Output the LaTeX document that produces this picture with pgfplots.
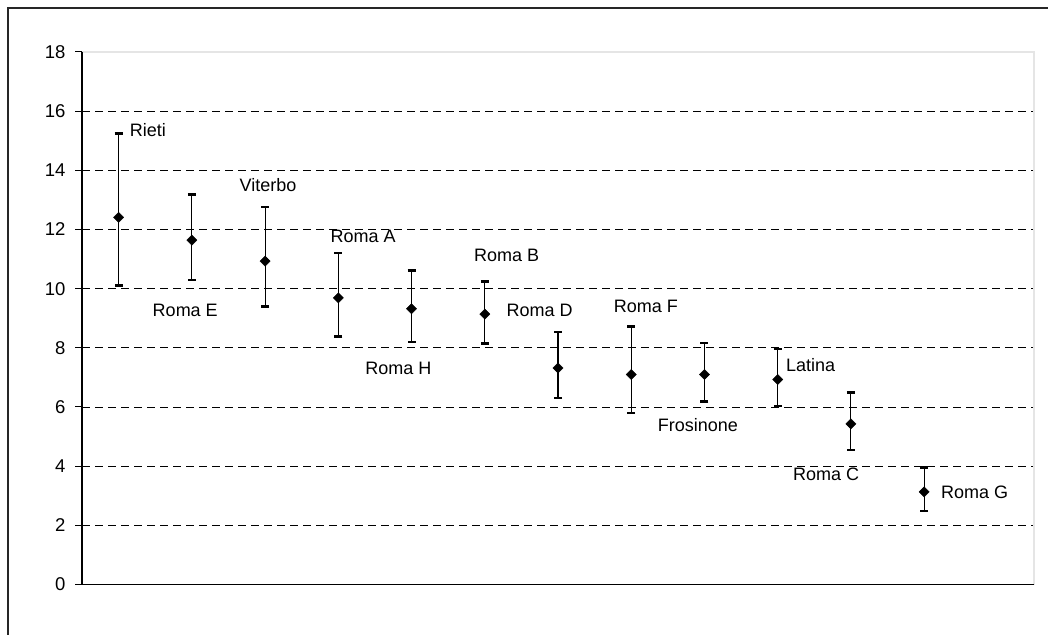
\documentclass[border=0pt]{standalone}
\usepackage{fontspec}
\setmainfont{Liberation Sans}
\usepackage{pgfplots}
\pgfplotsset{compat=1.18}

\begin{document}
\begin{tikzpicture}[font=\fontsize{18}{21}\selectfont]
\path[use as bounding box] (0pt,0pt) rectangle (1048pt,634pt);
% outer chart frame (left and top edges visible)
\begin{scope}
  \clip (0pt,0pt) rectangle (1048pt,634pt);
  \draw[line width=2pt, black!85] (8pt,-20pt) -- (8pt,626pt) -- (1070pt,626pt);
\end{scope}
\begin{axis}[
  at={(82pt,49.5pt)}, anchor=south west,
  scale only axis, width=952pt, height=532.5pt,
  xmin=0.5, xmax=13.5, ymin=0, ymax=18,
  xtick=\empty,
  ytick={0,2,...,18}, ytick pos=left,
  tick align=outside, major tick length=7pt,
  tick style={black, line width=1pt},
  extra y ticks={2,4,...,16}, extra y tick labels={},
  extra y tick style={grid=major, major tick length=0pt},
  grid style={black, dash pattern=on 8pt off 5pt, line width=0.9pt},
  axis line style={draw=none},
  yticklabel style={font=\fontsize{18.5}{21}\selectfont, xshift=-6pt},
  /pgf/number format/assume math mode=true,
  clip=false,
]
% plot-area border and axes
\draw[black!10, line width=2pt] (rel axis cs:0,1) -- (rel axis cs:1,1) -- (rel axis cs:1,0);
\draw[black, line width=1.2pt] (rel axis cs:0,1) -- (rel axis cs:0,0) -- (rel axis cs:1,0);

\addplot[only marks, mark=square*, mark size=3.6pt,
  mark options={rotate=45, fill=black, draw=black},
  error bars/.cd, y dir=both, y explicit, error mark=|,
  error bar style={line width=1.1pt, black},
  error mark options={line width=2.5pt, mark size=4pt, black}]
coordinates {
  (1,12.41)  += (0,2.83) -= (0,2.30)
  (2,11.64)  += (0,1.55) -= (0,1.34)
  (3,10.93)  += (0,1.83) -= (0,1.54)
  (4,9.69)   += (0,1.52) -= (0,1.30)
  (5,9.32)   += (0,1.29) -= (0,1.12)
  (6,9.14)   += (0,1.10) -= (0,0.99)
  (7,7.32)   += (0,1.22) -= (0,1.02)
  (8,7.10)   += (0,1.62) -= (0,1.30)
  (9,7.10)   += (0,1.07) -= (0,0.91)
  (10,6.93)  += (0,1.03) -= (0,0.90)
  (11,5.43)  += (0,1.06) -= (0,0.89)
  (12,3.13)  += (0,0.83) -= (0,0.65)
};

% data labels
\node at (axis cs:1.40,15.37) {Rieti};
\node at (axis cs:1.91,9.28) {Roma E};
\node at (axis cs:3.04,13.51) {Viterbo};
\node at (axis cs:4.34,11.78) {Roma A};
\node at (axis cs:4.82,7.29) {Roma H};
\node at (axis cs:6.30,11.14) {Roma B};
\node at (axis cs:6.75,9.28) {Roma D};
\node at (axis cs:8.20,9.41) {Roma F};
\node at (axis cs:8.91,5.39) {Frosinone};
\node at (axis cs:10.45,7.42) {Latina};
\node at (axis cs:10.66,3.74) {Roma C};
\node at (axis cs:12.69,3.13) {Roma G};
\end{axis}
\end{tikzpicture}
\end{document}
